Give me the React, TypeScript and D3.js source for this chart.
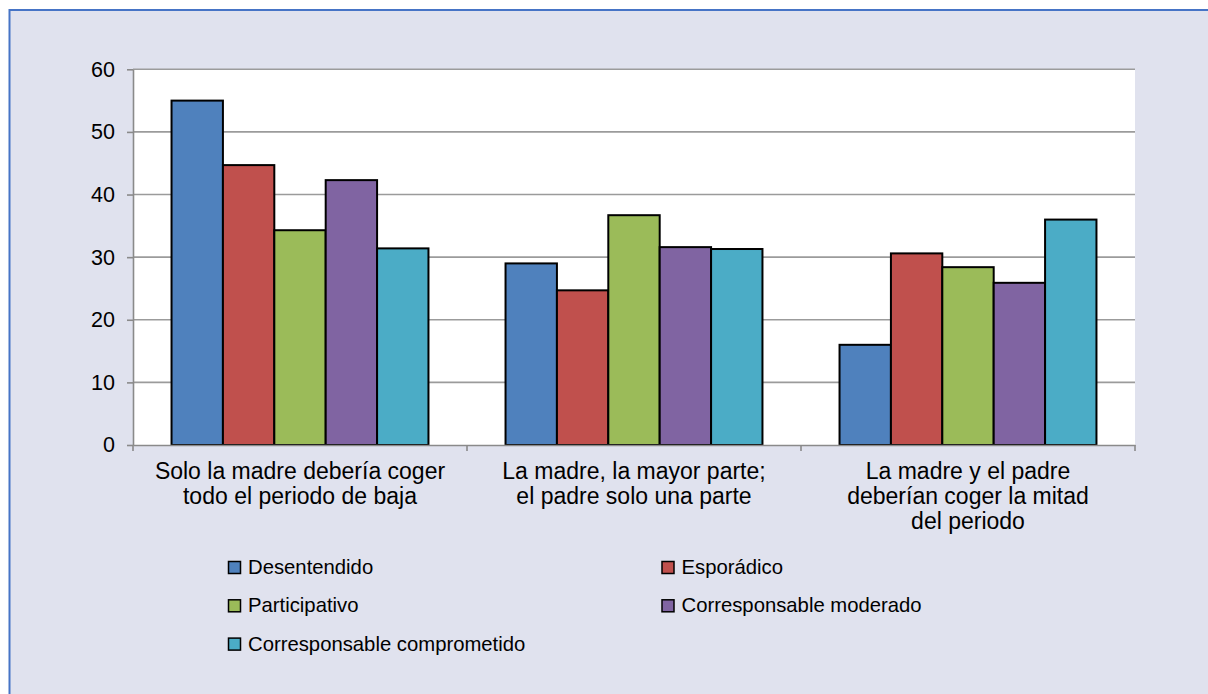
import React, { useRef, useEffect } from 'react';
import { select, scaleBand, scaleLinear, axisLeft, axisBottom } from 'd3';

const categories = [
  'Solo la madre debería coger todo el periodo de baja',
  'La madre, la mayor parte; el padre solo una parte',
  'La madre y el padre deberían coger la mitad del periodo',
];

const categoryLines = [
  ['Solo la madre debería coger', 'todo el periodo de baja'],
  ['La madre, la mayor parte;', 'el padre solo una parte'],
  ['La madre y el padre', 'deberían coger la mitad', 'del periodo'],
];

const seriesNames = [
  'Desentendido',
  'Esporádico',
  'Participativo',
  'Corresponsable moderado',
  'Corresponsable comprometido',
];

const seriesColors = ['#4f81bd', '#c0504d', '#9bbb59', '#8064a2', '#4bacc6'];

const desentendido = [55.0, 29.0, 16.0];
const esporadico = [44.7, 24.7, 30.6];
const participativo = [34.3, 36.7, 28.4];
const moderado = [42.3, 31.6, 25.9];
const comprometido = [31.4, 31.3, 36.0];

const seriesValues = [desentendido, esporadico, participativo, moderado, comprometido];

const yTicks = [0, 10, 20, 30, 40, 50, 60];

const FONT = '"Liberation Sans", Arial, Helvetica, sans-serif';

const App = () => {
  const svgRef = useRef<SVGSVGElement>(null);

  useEffect(() => {
    const svg = select(svgRef.current);
    svg.selectAll('*').remove();

    const left = 133;
    const right = 1135;
    const top = 69.3;
    const bottom = 445;

    const xScale = scaleBand<string>().domain(categories).range([left, right]);
    const groupWidth = xScale.bandwidth() * 5 / 6.5;
    const innerScale = scaleBand<number>()
      .domain(seriesNames.map((d, i) => i))
      .range([0, groupWidth]);
    const yScale = scaleLinear().domain([0, 60]).range([bottom, top]);

    // frame
    svg.append('rect')
      .attr('x', 9.5).attr('y', 10)
      .attr('width', 1220).attr('height', 720)
      .attr('fill', '#e0e2ee')
      .attr('stroke', '#4674c6')
      .attr('stroke-width', 2);

    // plot area
    svg.append('rect')
      .attr('x', left).attr('y', top)
      .attr('width', right - left).attr('height', bottom - top)
      .attr('fill', '#ffffff');

    // gridlines
    svg.append('g')
      .selectAll('line')
      .data(yTicks.filter(t => t > 0))
      .join('line')
      .attr('x1', left).attr('x2', right)
      .attr('y1', d => yScale(d)).attr('y2', d => yScale(d))
      .attr('stroke', '#9b9b9b')
      .attr('stroke-width', 1.6);

    // y axis
    const yAxis = svg.append('g')
      .attr('transform', `translate(${left},0)`)
      .call(axisLeft(yScale).tickValues(yTicks).tickSize(6).tickPadding(12).tickSizeOuter(0));
    yAxis.select('.domain').attr('stroke', '#8a8a8a').attr('stroke-width', 1.6);
    yAxis.selectAll('.tick line').attr('stroke', '#8a8a8a').attr('stroke-width', 1.6);
    yAxis.selectAll('.tick text')
      .attr('fill', '#000')
      .style('font-family', FONT)
      .style('font-size', '21.5px');

    // bars
    svg.append('g')
      .selectAll('g')
      .data(categories)
      .join('g')
      .attr('transform', d => `translate(${(xScale(d) as number) + (xScale.bandwidth() - groupWidth) / 2},0)`)
      .selectAll('rect')
      .data((d, ci) => seriesValues.map((vals, si) => ({ si, v: vals[ci] })))
      .join('rect')
      .attr('x', d => innerScale(d.si) as number)
      .attr('y', d => yScale(d.v))
      .attr('width', innerScale.bandwidth())
      .attr('height', d => bottom - yScale(d.v))
      .attr('fill', d => seriesColors[d.si])
      .attr('stroke', '#000')
      .attr('stroke-width', 2);

    // x axis
    const xAxis = svg.append('g')
      .attr('transform', `translate(0,${bottom})`)
      .call(axisBottom(xScale).tickSize(0).tickSizeOuter(0).tickFormat(() => ''));
    xAxis.select('.domain').attr('stroke', '#8a8a8a').attr('stroke-width', 1.6);
    xAxis.selectAll('.tick').remove();

    const boundaries = [...categories.map(c => xScale(c) as number), right];
    xAxis.selectAll('line.sep')
      .data(boundaries)
      .join('line')
      .attr('class', 'sep')
      .attr('x1', d => d).attr('x2', d => d)
      .attr('y1', 0).attr('y2', 6)
      .attr('stroke', '#8a8a8a')
      .attr('stroke-width', 1.6);

    // category labels
    svg.append('g')
      .selectAll('text')
      .data(categories)
      .join('text')
      .attr('x', d => (xScale(d) as number) + xScale.bandwidth() / 2)
      .attr('y', 479)
      .attr('text-anchor', 'middle')
      .attr('fill', '#000')
      .style('font-family', FONT)
      .style('font-size', '23px')
      .selectAll('tspan')
      .data((d, i) => categoryLines[i])
      .join('tspan')
      .attr('x', function () { return (this.parentNode as SVGTextElement).getAttribute('x'); })
      .attr('dy', (d, i) => (i === 0 ? 0 : 25))
      .text(d => d);

    // legend
    const legendCols = [228, 661.5];
    const legendRows = [574, 612.3, 650.6];
    const legend = svg.append('g')
      .selectAll('g')
      .data(seriesNames)
      .join('g')
      .attr('transform', (d, i) => `translate(${legendCols[i % 2]},${legendRows[Math.floor(i / 2)]})`);
    legend.append('rect')
      .attr('x', 0.5).attr('y', -12.5)
      .attr('width', 12).attr('height', 12)
      .attr('fill', (d, i) => seriesColors[i])
      .attr('stroke', '#000')
      .attr('stroke-width', 1.5);
    legend.append('text')
      .attr('x', 20)
      .attr('y', 0)
      .attr('fill', '#000')
      .style('font-family', FONT)
      .style('font-size', '20.3px')
      .text(d => d);
  }, []);

  return (
    <svg
      ref={svgRef}
      width={1208}
      height={694}
      style={{ position: 'absolute', left: 0, top: 0, background: '#ffffff' }}
    />
  );
};

export default App;
